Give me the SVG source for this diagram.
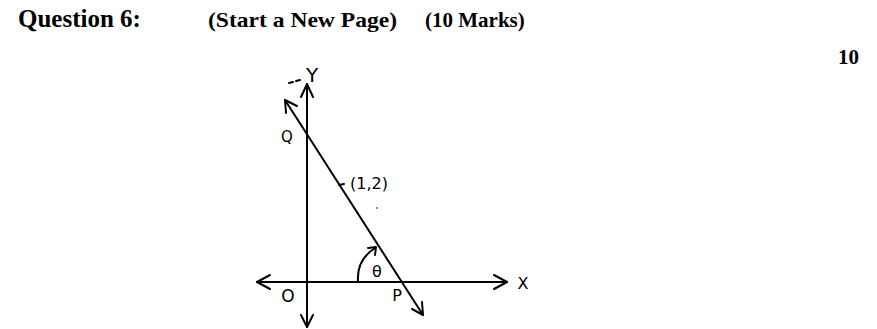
<svg xmlns="http://www.w3.org/2000/svg" width="877" height="329" viewBox="0 0 877 329">
<style>
.title{font-family:"Liberation Serif",serif;font-weight:bold;fill:#000}
.hand{font-family:"DejaVu Sans","Liberation Sans",sans-serif;fill:#000}
.ln{stroke:#000;stroke-width:2;fill:none;stroke-linecap:round;stroke-linejoin:round}
</style>
<rect width="877" height="329" fill="#fff"/>
<g id="header">
<text class="title" x="18" y="27" font-size="25">Question 6:</text>
<text class="title" x="208" y="27" font-size="21" textLength="189" lengthAdjust="spacingAndGlyphs">(Start a New Page)</text>
<text class="title" x="425" y="27" font-size="21">(10 Marks)</text>
<text class="title" x="838" y="64" font-size="21">10</text>
</g>
<g id="connectors">
<line class="ln" x1="307" y1="84" x2="307" y2="327"/>
<path class="ln" d="M301,97 L307,84 L313,97"/>
<path class="ln" d="M301,315 L307,327 L313,315"/>
<line class="ln" x1="257" y1="282" x2="507" y2="282"/>
<path class="ln" d="M270,275 L257,282 L270,289"/>
<path class="ln" d="M494,275 L507,282 L494,289"/>
<line class="ln" x1="285" y1="100" x2="423" y2="315" stroke-width="1.8"/>
<path class="ln" d="M286,113 L285,100 L297,106"/>
<path class="ln" d="M422,302 L423,315 L412,309"/>
<path class="ln" d="M358,281 C357,266 364,255 375,248" stroke-width="1.8"/>
<path class="ln" d="M368,248 L376,247 L375,255" stroke-width="1.8"/>
<path class="ln" d="M289,83 L293,82 M296,81 L300,80" stroke-width="1.5"/>
<line class="ln" x1="339" y1="185" x2="344" y2="184" stroke-width="1.5"/>
<circle cx="377" cy="208" r="0.8" fill="#000"/>
</g>
<g id="labels">
<text class="hand" x="312" y="82" font-size="20" text-anchor="middle">Y</text>
<text class="hand" x="287" y="142" font-size="15" text-anchor="middle">Q</text>
<text class="hand" x="350" y="189" font-size="16">(1,2)</text>
<text class="hand" x="377" y="277" font-size="16" text-anchor="middle">θ</text>
<text class="hand" x="288" y="302" font-size="17" text-anchor="middle">O</text>
<text class="hand" x="397" y="301" font-size="16" text-anchor="middle">P</text>
<text class="hand" x="523" y="289" font-size="16" text-anchor="middle">X</text>
</g>
</svg>
